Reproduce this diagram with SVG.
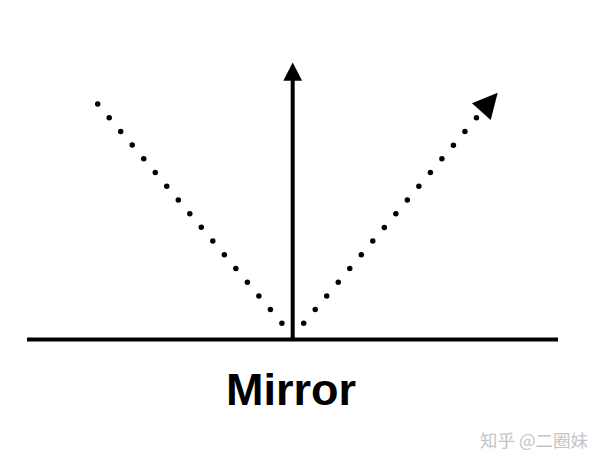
<svg xmlns="http://www.w3.org/2000/svg" width="604" height="464" viewBox="0 0 604 464">
<style>
.dot{fill:none;stroke:#000;stroke-width:5.5;stroke-linecap:round;stroke-dasharray:0 17.9}
.solid{stroke:#000;stroke-width:4;fill:none}
.head{fill:#000}
</style>
<rect width="604" height="464" fill="#fff"/>
<g id="mirror">
<line class="solid" x1="27" y1="339.5" x2="558" y2="339.5"/>
<text x="291" y="405" font-family="'Liberation Sans', Arial, sans-serif" font-weight="bold" font-size="45" text-anchor="middle" fill="#000">Mirror</text>
</g>
<g id="connectors">
<path class="dot" d="M97.7,104 L282.9,324.5"/>
<path class="dot" d="M303.7,323.3 L477.5,116.5"/>
<polygon class="head" points="497.7,92.7 472,103.3 490.7,120"/>
<line class="solid" x1="292.7" y1="339.5" x2="292.7" y2="78"/>
<polygon class="head" points="292.7,62.5 283.3,80.7 302.1,80.7"/>
</g>
<text x="480" y="447" font-family="'Noto Sans CJK SC', sans-serif" font-size="17.5" fill="#c4c4c4">知乎 @二圈妹</text>
</svg>
